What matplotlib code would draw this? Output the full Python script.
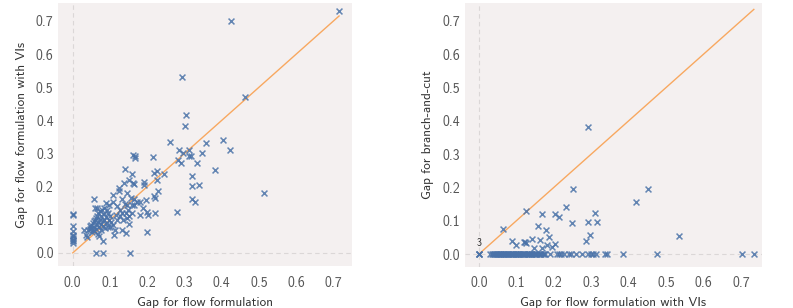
import matplotlib
matplotlib.use("Agg")
import matplotlib.pyplot as plt

# left panel: gap for flow formulation (x) vs gap with VIs (y)
flow_x = [0.0, 0.0, 0.0, 0.0, 0.0, 0.0, 0.0, 0.0, 0.0, 0.0,
          0.029, 0.036, 0.039, 0.041, 0.045, 0.047, 0.048, 0.050, 0.051, 0.053,
          0.055, 0.056, 0.057, 0.058, 0.060, 0.060, 0.062, 0.063, 0.064, 0.065,
          0.066, 0.067, 0.068, 0.069, 0.070, 0.071, 0.072, 0.073, 0.075, 0.076,
          0.077, 0.079, 0.080, 0.081, 0.083, 0.084, 0.085, 0.086, 0.088, 0.090,
          0.091, 0.092, 0.094, 0.095, 0.097, 0.098, 0.100, 0.101, 0.103, 0.056,
          0.082,
          0.107, 0.109, 0.109, 0.112, 0.114, 0.115, 0.118, 0.120, 0.123, 0.124,
          0.127, 0.128, 0.132, 0.132, 0.132, 0.135, 0.138, 0.139, 0.141, 0.143,
          0.143, 0.145, 0.145, 0.145, 0.149, 0.150, 0.150, 0.152, 0.156, 0.158,
          0.158, 0.159, 0.161, 0.163, 0.164, 0.165, 0.165, 0.166, 0.168, 0.172,
          0.181, 0.181, 0.188, 0.190, 0.192, 0.197, 0.199, 0.199, 0.201, 0.215,
          0.218, 0.218, 0.221, 0.221, 0.226, 0.227, 0.230, 0.246,
          0.715, 0.425, 0.463, 0.293, 0.303, 0.302, 0.403, 0.357, 0.262, 0.423,
          0.284, 0.312, 0.346, 0.295, 0.311, 0.318, 0.282, 0.333, 0.290, 0.383,
          0.320, 0.340, 0.321, 0.514, 0.321, 0.329, 0.279,
          0.063, 0.082, 0.154]
flow_y = [0.118, 0.113, 0.082, 0.065, 0.055, 0.050, 0.045, 0.040, 0.035, 0.030,
          0.068, 0.053, 0.048, 0.070, 0.072, 0.080, 0.075, 0.085, 0.062, 0.068,
          0.090, 0.065, 0.078, 0.095, 0.100, 0.135, 0.072, 0.105, 0.135, 0.085,
          0.112, 0.058, 0.092, 0.120, 0.078, 0.052, 0.100, 0.125, 0.088, 0.070,
          0.110, 0.130, 0.095, 0.080, 0.118, 0.135, 0.100, 0.075, 0.108, 0.152,
          0.130, 0.090, 0.078, 0.120, 0.098, 0.145, 0.078, 0.110, 0.092, 0.162,
          0.035,
          0.085, 0.176, 0.155, 0.055, 0.070, 0.115, 0.100, 0.140, 0.186, 0.196,
          0.130, 0.110, 0.120, 0.070, 0.162, 0.100, 0.211, 0.254, 0.148, 0.120,
          0.060, 0.145, 0.181, 0.105, 0.130, 0.221, 0.088, 0.110, 0.166, 0.239,
          0.120, 0.143, 0.211, 0.296, 0.209, 0.143, 0.162, 0.291, 0.286, 0.155,
          0.155, 0.115, 0.135, 0.213, 0.206, 0.161, 0.122, 0.062, 0.115, 0.289,
          0.241, 0.171, 0.166, 0.120, 0.246, 0.221, 0.186, 0.238,
          0.730, 0.699, 0.471, 0.532, 0.416, 0.383, 0.341, 0.333, 0.334, 0.309,
          0.309, 0.311, 0.301, 0.301, 0.291, 0.291, 0.281, 0.271, 0.271, 0.251,
          0.231, 0.204, 0.201, 0.181, 0.162, 0.155, 0.124,
          0.0, 0.0, 0.0]

# right panel: gap with VIs (x) vs gap for branch-and-cut (y)
bc_x = [0.292, 0.451, 0.252, 0.420, 0.232, 0.127, 0.168, 0.204, 0.214, 0.309,
        0.290, 0.314, 0.249, 0.063, 0.157, 0.178, 0.534, 0.296, 0.188, 0.285,
        0.089, 0.100, 0.120, 0.125, 0.122, 0.142, 0.163, 0.181, 0.204, 0.196,
        0.148, 0.168]
bc_y = [0.380, 0.195, 0.194, 0.155, 0.141, 0.130, 0.121, 0.121, 0.111, 0.123,
        0.096, 0.096, 0.093, 0.076, 0.083, 0.072, 0.053, 0.056, 0.052, 0.038,
        0.038, 0.028, 0.035, 0.032, 0.035, 0.046, 0.042, 0.027, 0.031, 0.022,
        0.019, 0.019]
# instances where branch-and-cut closes the gap
bc_zero_x = [0.0, 0.0, 0.0,
             0.030, 0.034, 0.037, 0.040, 0.043, 0.046, 0.048, 0.050, 0.053, 0.055,
             0.058, 0.060, 0.063, 0.065, 0.068, 0.070, 0.072, 0.075, 0.078, 0.080,
             0.082, 0.085, 0.088, 0.090, 0.092, 0.095, 0.098, 0.100, 0.103, 0.105,
             0.108, 0.110, 0.113, 0.115, 0.118, 0.120, 0.124, 0.128, 0.130, 0.133,
             0.135, 0.138, 0.140, 0.143, 0.146, 0.150, 0.153, 0.156, 0.160, 0.163,
             0.166, 0.170, 0.173, 0.176,
             0.189, 0.209, 0.214, 0.220, 0.228, 0.241, 0.246, 0.259, 0.274, 0.292,
             0.298, 0.304, 0.312, 0.337, 0.343, 0.386, 0.475, 0.703, 0.734]

plt.rcParams['font.family'] = ['cmss10', 'DejaVu Sans']
plt.rcParams['axes.unicode_minus'] = False

fig = plt.figure(figsize=(7.93, 3.08), dpi=100)
ax1 = fig.add_axes([0.073, 0.136, 0.371, 0.854])
ax2 = fig.add_axes([0.586, 0.134, 0.375, 0.856])

blue = '#4a72a8'
orange = '#f8a860'


def style(ax, xlabel, ylabel):
    ax.set_facecolor('#f4f0f0')
    for s in ax.spines.values():
        s.set_visible(False)
    ax.axvline(0, color='#dbd7d7', lw=0.8, ls=(0, (4, 3)), zorder=0)
    ax.axhline(0, color='#dbd7d7', lw=0.8, ls=(0, (4, 3)), zorder=0)
    ax.set_xticks([0.0, 0.1, 0.2, 0.3, 0.4, 0.5, 0.6, 0.7])
    ax.set_yticks([0.0, 0.1, 0.2, 0.3, 0.4, 0.5, 0.6, 0.7])
    ax.tick_params(length=0, labelsize=10, labelcolor='#555555')
    ax.tick_params(axis='x', pad=7)
    ax.tick_params(axis='y', pad=3)
    ax.set_xlabel(xlabel, fontsize=9.5, color='#333333', labelpad=5)
    ax.set_ylabel(ylabel, fontsize=9.5, color='#333333', labelpad=6)


m1 = max(flow_x)
ax1.plot([0, m1], [0, m1], color=orange, lw=1, zorder=2)
ax1.scatter(flow_x, flow_y, marker='x', s=18, lw=1.1, color=blue, alpha=0.85, zorder=3)
ax1.set_xlim(-0.04, 0.75)
ax1.set_ylim(-0.04, 0.754)
style(ax1, 'Gap for flow formulation', 'Gap for flow formulation with VIs')

m2 = max(bc_zero_x + bc_x)
ax2.plot([0, m2], [0, m2], color=orange, lw=1, zorder=2)
ax2.scatter(bc_x, bc_y, marker='x', s=18, lw=1.1, color=blue, alpha=0.85, zorder=3)
ax2.scatter(bc_zero_x, [0.0] * len(bc_zero_x), marker='x', s=18, lw=1.1,
            color=blue, alpha=0.85, zorder=3)
ax2.text(0.0, 0.018, str(bc_zero_x.count(0.0)), fontsize=7, color='#222222',
         ha='center', va='bottom')
ax2.set_xlim(-0.038, 0.756)
ax2.set_ylim(-0.038, 0.753)
style(ax2, 'Gap for flow formulation with VIs', 'Gap for branch-and-cut')

fig.savefig('out.png', dpi=100)
